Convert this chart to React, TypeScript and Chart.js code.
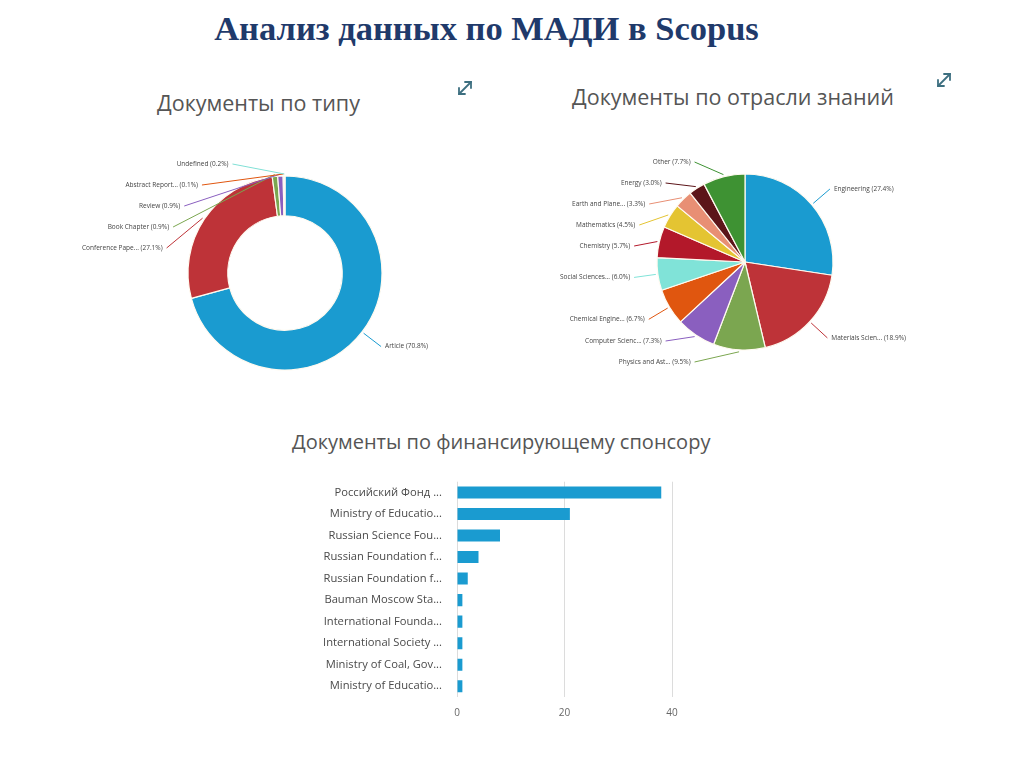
import React, { useEffect, useRef } from "react";
import { Chart, registerables } from "chart.js";

Chart.register(...registerables);

// ---------- data ----------
const typeLabels = ["Article", "Conference Pape...", "Book Chapter", "Review", "Abstract Report...", "Undefined"];
const typeValues = [70.8, 27.1, 0.9, 0.9, 0.1, 0.2];
const typeColors = ["#1a9bd0", "#be3338", "#7ba650", "#8a5fbf", "#e0560f", "#80e0d6"];

const fieldLabels = [
  "Engineering",
  "Materials Scien...",
  "Physics and Ast...",
  "Computer Scienc...",
  "Chemical Engine...",
  "Social Sciences...",
  "Chemistry",
  "Mathematics",
  "Earth and Plane...",
  "Energy",
  "Other",
];
const fieldValues = [27.4, 18.9, 9.5, 7.3, 6.7, 6.0, 5.7, 4.5, 3.3, 3.0, 7.7];
const fieldColors = [
  "#1a9bd0", "#be3338", "#7ba650", "#8a5fbf", "#e0560f", "#80e3d8",
  "#b3182a", "#e4c432", "#e88f74", "#5c1519", "#3e9233",
];

const sponsorLabels = [
  "Российский Фонд ...",
  "Ministry of Educatio...",
  "Russian Science Fou...",
  "Russian Foundation f...",
  "Russian Foundation f...",
  "Bauman Moscow Sta...",
  "International Founda...",
  "International Society ...",
  "Ministry of Coal, Gov...",
  "Ministry of Educatio...",
];
const sponsorValues = [38, 21, 8, 4, 2, 1, 1, 1, 1, 1];
const sponsorTicks = [0, 20, 40];

// ---------- plugin: outside labels with connectors ----------
function outsideLabels(texts: string[], values: number[], colors: string[], dist: number, clampPad: number, gap: number) {
  return {
    id: "outsideLabels",
    afterDatasetsDraw(chart: any) {
      const ctx = chart.ctx;
      const meta = chart.getDatasetMeta(0);
      const items = meta.data.map((arc: any, i: number) => {
        const p = arc.getProps(["x", "y", "startAngle", "endAngle", "outerRadius"], true);
        const mid = (p.startAngle + p.endAngle) / 2;
        const R = p.outerRadius + dist;
        return {
          i, cx: p.x, cy: p.y, r: p.outerRadius, R, mid,
          right: Math.cos(mid) >= 0,
          ly: p.y + Math.sin(mid) * R,
        };
      });
      [true, false].forEach((side) => {
        const list = items.filter((s: any) => s.right === side).sort((a: any, b: any) => a.ly - b.ly);
        if (!list.length) return;
        const top = list[0].cy - list[0].r - clampPad;
        const bottom = list[0].cy + list[0].r + clampPad;
        let prev = -Infinity;
        list.forEach((it: any) => { it.ly = Math.max(it.ly, top, prev + gap); prev = it.ly; });
        let next = Infinity;
        for (let k = list.length - 1; k >= 0; k--) {
          const it = list[k];
          it.ly = Math.min(it.ly, bottom, next - gap);
          next = it.ly;
        }
      });
      ctx.save();
      ctx.font = "6.5px 'Open Sans', sans-serif";
      ctx.textBaseline = "middle";
      items.forEach((it: any) => {
        const dy = it.ly - it.cy;
        const dx = Math.sqrt(Math.max(it.R * it.R - dy * dy, 0));
        const ax = it.right ? it.cx + dx : it.cx - dx;
        const ex = it.cx + Math.cos(it.mid) * (it.r + 2);
        const ey = it.cy + Math.sin(it.mid) * (it.r + 2);
        ctx.strokeStyle = colors[it.i];
        ctx.lineWidth = 1;
        ctx.beginPath();
        ctx.moveTo(ax, it.ly);
        ctx.lineTo(ex, ey);
        ctx.stroke();
        ctx.fillStyle = "#444";
        ctx.textAlign = it.right ? "left" : "right";
        const txt = `${texts[it.i]} (${values[it.i].toFixed(1)}%)`;
        ctx.fillText(txt, it.right ? ax + 4 : ax - 4, it.ly);
      });
      ctx.restore();
    },
  };
}

function PieBlock(props: {
  left: number; top: number; width: number; height: number;
  labels: string[]; values: number[]; colors: string[];
  radius: number; cutout: string; type: "pie" | "doughnut";
}) {
  const ref = useRef<HTMLCanvasElement>(null);
  useEffect(() => {
    const chart = new Chart(ref.current as HTMLCanvasElement, {
      type: props.type,
      data: {
        labels: props.labels,
        datasets: [{
          data: props.values,
          backgroundColor: props.colors,
          borderColor: "#fffaf0",
          borderWidth: 1.2,
          hoverOffset: 0,
        }],
      },
      options: {
        responsive: false,
        animation: false,
        radius: props.radius,
        cutout: props.cutout,
        plugins: { legend: { display: false }, tooltip: { enabled: false } },
      } as any,
      plugins: [outsideLabels(props.labels, props.values, props.colors, 24, 12, 21)],
    });
    return () => chart.destroy();
  }, []);
  return (
    <canvas
      ref={ref}
      width={props.width}
      height={props.height}
      style={{ position: "absolute", left: props.left, top: props.top, width: props.width, height: props.height }}
    />
  );
}

function BarBlock() {
  const ref = useRef<HTMLCanvasElement>(null);
  useEffect(() => {
    const chart = new Chart(ref.current as HTMLCanvasElement, {
      type: "bar",
      data: {
        labels: sponsorLabels,
        datasets: [{
          data: sponsorValues,
          backgroundColor: "#1a9bd0",
          barPercentage: 0.56,
          categoryPercentage: 1,
        }],
      },
      options: {
        indexAxis: "y",
        responsive: false,
        animation: false,
        layout: { padding: { top: 1, right: 28, left: 0, bottom: 0 } },
        plugins: { legend: { display: false }, tooltip: { enabled: false } },
        scales: {
          x: {
            min: 0,
            max: 40,
            afterBuildTicks: (axis: any) => { axis.ticks = sponsorTicks.map((v) => ({ value: v })); },
            afterFit: (axis: any) => { axis.height = 30; },
            grid: { color: "#dcdcdc", drawTicks: false },
            border: { display: false },
            ticks: { padding: 10, color: "#666", font: { family: "'Open Sans', sans-serif", size: 10 } },
          },
          y: {
            afterFit: (axis: any) => { axis.width = 157; },
            grid: { display: false, drawTicks: false },
            border: { display: false },
            ticks: { padding: 15, color: "#4a4a4a", font: { family: "'Open Sans', sans-serif", size: 11.2 } },
          },
        },
      } as any,
    });
    return () => chart.destroy();
  }, []);
  return (
    <canvas
      ref={ref}
      width={400}
      height={267}
      style={{ position: "absolute", left: 300, top: 460, width: 400, height: 267 }}
    />
  );
}

function ExpandIcon(props: { left: number; top: number }) {
  return (
    <svg
      width={20}
      height={20}
      viewBox="0 0 20 20"
      style={{ position: "absolute", left: props.left, top: props.top }}
    >
      <g stroke="#3d6f80" strokeWidth={1.8} fill="none" strokeLinecap="round">
        <line x1={4} y1={16} x2={16} y2={4} />
        <polyline points="10,4 16,4 16,10" />
        <polyline points="4,10 4,16 10,16" />
      </g>
    </svg>
  );
}

const subStyle: React.CSSProperties = {
  position: "absolute",
  fontFamily: "'Open Sans', sans-serif",
  fontSize: 21.5,
  lineHeight: "26px",
  color: "#555",
  whiteSpace: "nowrap",
};

export default function App() {
  return (
    <div style={{ position: "absolute", left: 0, top: 0, width: 1024, height: 767, background: "#fff", overflow: "hidden" }}>
      <div
        style={{
          position: "absolute", left: 0, width: 973, top: 8, textAlign: "center",
          fontFamily: "'Liberation Serif', 'Times New Roman', serif", fontWeight: "bold",
          fontSize: 34.5, lineHeight: "40px", color: "#1f3a6b", whiteSpace: "nowrap",
        }}
      >
        Анализ данных по МАДИ в Scopus
      </div>
      <div style={{ ...subStyle, left: 157, top: 90 }}>Документы по типу</div>
      <div style={{ ...subStyle, left: 572, top: 84 }}>Документы по отрасли знаний</div>
      <div style={{ ...subStyle, fontSize: 20, left: 292, top: 429 }}>Документы по финансирующему спонсору</div>
      <ExpandIcon left={455} top={78} />
      <ExpandIcon left={934} top={70} />
      <PieBlock
        type="doughnut" left={55} top={143} width={460} height={260}
        labels={typeLabels} values={typeValues} colors={typeColors} radius={97} cutout="59%"
      />
      <PieBlock
        type="pie" left={530} top={132} width={430} height={260}
        labels={fieldLabels} values={fieldValues} colors={fieldColors} radius={88} cutout="0%"
      />
      <BarBlock />
    </div>
  );
}
